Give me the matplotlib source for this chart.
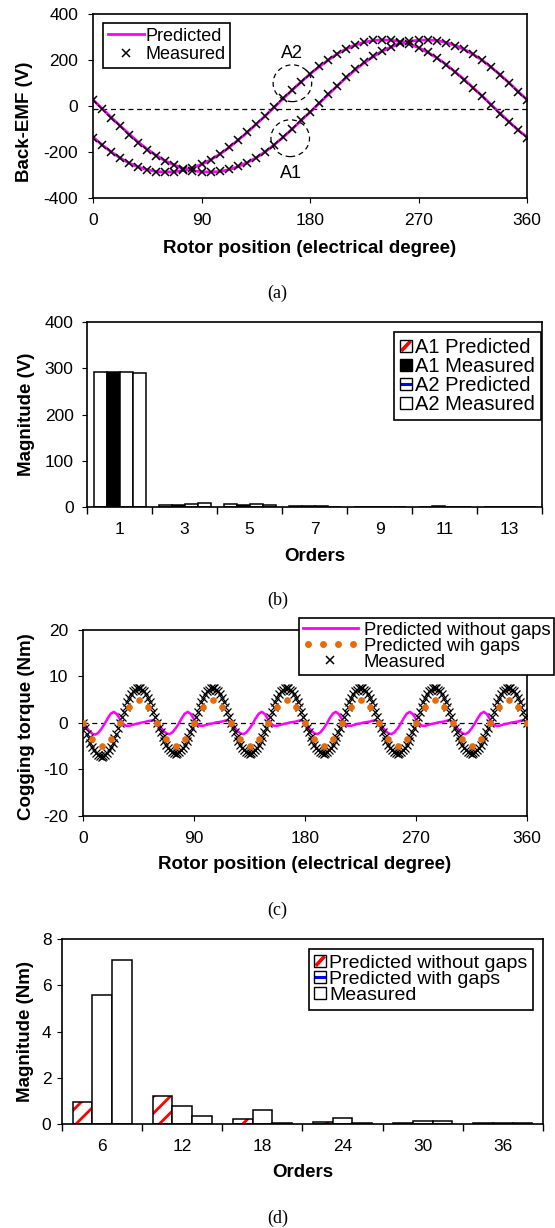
import numpy as np
import matplotlib
matplotlib.use('Agg')
import matplotlib.pyplot as plt
from matplotlib.patches import Patch, Ellipse, Rectangle
from matplotlib.lines import Line2D
from matplotlib.legend_handler import HandlerLine2D, HandlerBase

plt.rcParams['font.family'] = ['Liberation Sans', 'DejaVu Sans']
plt.rcParams['axes.unicode_minus'] = False
plt.rcParams['hatch.linewidth'] = 2.0
plt.rcParams['xtick.major.size'] = 3.6
plt.rcParams['ytick.major.size'] = 3.6
plt.rcParams['xtick.minor.size'] = 3.6
plt.rcParams['xtick.labelsize'] = 12.5
plt.rcParams['ytick.labelsize'] = 12.5

# (a) back-EMF, measured every 7.5 deg
theta_a = np.arange(0, 360.1, 7.5)
a1_meas = [25, -13, -50, -88, -124, -159, -190, -217, -240, -258,
           -273, -282, -286, -287, -284, -276, -263, -246, -225, -199,
           -168, -135, -99, -62, -25, 13, 51, 89, 125, 159,
           190, 217, 240, 258, 273, 282, 286, 287, 284, 276,
           263, 246, 225, 199, 168, 135, 99, 62, 25]
a1_pred = [27, -11, -49, -86, -122, -157, -188, -215, -239, -257,
           -272, -281, -286, -287, -285, -277, -264, -247, -226, -200,
           -170, -137, -101, -64, -27, 11, 49, 87, 123, 157,
           188, 215, 239, 257, 272, 281, 286, 287, 285, 277,
           264, 247, 226, 200, 170, 137, 101, 64, 27]
a2_meas = [-137, -171, -201, -227, -249, -266, -278, -285, -287, -285,
           -279, -268, -253, -233, -208, -180, -148, -115, -79, -43,
           -5, 33, 70, 106, 141, 172, 201, 227, 249, 266,
           278, 285, 287, 285, 279, 268, 253, 233, 208, 180,
           148, 115, 79, 43, 5, -33, -70, -106, -137]
a2_pred = [-135, -169, -199, -226, -248, -265, -277, -285, -287, -286,
           -280, -269, -254, -234, -210, -182, -150, -117, -81, -45,
           -7, 31, 68, 104, 139, 170, 199, 226, 248, 265,
           277, 285, 287, 286, 280, 269, 254, 234, 210, 182,
           150, 117, 81, 45, 7, -31, -68, -104, -135]

# (b) back-EMF harmonics
orders_b = ['1', '3', '5', '7', '9', '11', '13']
b_a1_pred = [291, 5.1, 7.2, 1.4, 0.7, 0.7, 0.7]
b_a1_meas = [291, 4.3, 4.3, 1.4, 0.7, 1.4, 0.7]
b_a2_pred = [292, 6.5, 6.5, 2.9, 0.7, 0.7, 0.7]
b_a2_meas = [290, 9.4, 5.1, 0.7, 0.7, 0.7, 0.7]

# (c) cogging torque
theta_line = np.arange(0, 360.1, 2.5)
tq_no_gaps = [
    0.0, -0.8, -1.7, -2.3, -2.5, -2.1, -1.2, -0.2, 1.0, 2.0, 2.4, 1.9,
    0.8, -0.2, -0.6, -0.6, -0.4, -0.2, -0.1, 0.1, 0.2, 0.4, 0.5, 0.6,
    0.0, -0.8, -1.6, -2.2, -2.4, -2.0, -1.2, -0.2, 1.0, 2.0, 2.4, 1.9,
    0.8, -0.2, -0.6, -0.6, -0.4, -0.2, -0.1, 0.1, 0.2, 0.3, 0.5, 0.6,
    0.0, -0.8, -1.6, -2.2, -2.4, -2.0, -1.2, -0.2, 1.0, 2.0, 2.4, 1.9,
    0.8, -0.2, -0.6, -0.6, -0.4, -0.2, -0.1, 0.1, 0.2, 0.3, 0.5, 0.6,
    0.0, -0.8, -1.6, -2.2, -2.4, -2.0, -1.2, -0.2, 1.0, 2.0, 2.4, 1.9,
    0.8, -0.2, -0.6, -0.6, -0.4, -0.2, -0.1, 0.1, 0.2, 0.3, 0.5, 0.6,
    0.0, -0.8, -1.6, -2.2, -2.4, -2.0, -1.2, -0.2, 1.0, 2.0, 2.4, 1.9,
    0.8, -0.2, -0.6, -0.6, -0.4, -0.2, -0.1, 0.1, 0.2, 0.3, 0.5, 0.6,
    0.0, -0.8, -1.6, -2.2, -2.4, -2.0, -1.2, -0.2, 1.0, 2.0, 2.4, 1.9,
    0.8, -0.2, -0.6, -0.6, -0.4, -0.2, -0.1, 0.1, 0.2, 0.3, 0.5, 0.6,
    0.0]
theta_dots = np.arange(0, 360.1, 7.5)
tq_gaps = [
    0.0, -3.5, -4.9, -3.5, 0.0, 3.5, 5.0, 3.5,
    0.0, -3.5, -4.9, -3.5, 0.0, 3.5, 5.0, 3.5,
    0.0, -3.5, -4.9, -3.5, 0.0, 3.5, 5.0, 3.5,
    0.0, -3.5, -4.9, -3.5, 0.0, 3.5, 5.0, 3.5,
    0.0, -3.5, -4.9, -3.5, 0.0, 3.5, 5.0, 3.5,
    0.0, -3.5, -4.9, -3.5, 0.0, 3.5, 5.0, 3.5,
    0.0]
theta_meas = np.arange(0, 360.1, 1.5)
tq_meas = [
    0.0, -1.1, -2.3, -3.3, -4.3, -5.2, -5.9, -6.5, -6.9, -7.2,
    -7.3, -7.2, -6.9, -6.5, -5.9, -5.2, -4.3, -3.3, -2.3, -1.1,
    0.0, 1.2, 2.4, 3.5, 4.5, 5.4, 6.2, 6.8, 7.2, 7.5,
    7.6, 7.5, 7.2, 6.8, 6.2, 5.4, 4.5, 3.5, 2.4, 1.2,
    0.0, -1.0, -2.0, -3.0, -3.9, -4.7, -5.3, -5.9, -6.3, -6.5,
    -6.6, -6.5, -6.3, -5.9, -5.3, -4.7, -3.9, -3.0, -2.0, -1.0,
    0.0, 1.2, 2.4, 3.5, 4.5, 5.4, 6.2, 6.8, 7.2, 7.5,
    7.6, 7.5, 7.2, 6.8, 6.2, 5.4, 4.5, 3.5, 2.4, 1.2,
    0.0, -1.0, -2.0, -3.0, -3.9, -4.7, -5.3, -5.9, -6.3, -6.5,
    -6.6, -6.5, -6.3, -5.9, -5.3, -4.7, -3.9, -3.0, -2.0, -1.0,
    0.0, 1.2, 2.4, 3.5, 4.5, 5.4, 6.2, 6.8, 7.2, 7.5,
    7.6, 7.5, 7.2, 6.8, 6.2, 5.4, 4.5, 3.5, 2.4, 1.2,
    0.0, -1.0, -2.0, -3.0, -3.9, -4.7, -5.3, -5.9, -6.3, -6.5,
    -6.6, -6.5, -6.3, -5.9, -5.3, -4.7, -3.9, -3.0, -2.0, -1.0,
    0.0, 1.2, 2.4, 3.5, 4.5, 5.4, 6.2, 6.8, 7.2, 7.5,
    7.6, 7.5, 7.2, 6.8, 6.2, 5.4, 4.5, 3.5, 2.4, 1.2,
    0.0, -1.0, -2.0, -3.0, -3.9, -4.7, -5.3, -5.9, -6.3, -6.5,
    -6.6, -6.5, -6.3, -5.9, -5.3, -4.7, -3.9, -3.0, -2.0, -1.0,
    0.0, 1.2, 2.4, 3.5, 4.5, 5.4, 6.2, 6.8, 7.2, 7.5,
    7.6, 7.5, 7.2, 6.8, 6.2, 5.4, 4.5, 3.5, 2.4, 1.2,
    0.0, -1.0, -2.0, -3.0, -3.9, -4.7, -5.3, -5.9, -6.3, -6.5,
    -6.6, -6.5, -6.3, -5.9, -5.3, -4.7, -3.9, -3.0, -2.0, -1.0,
    0.0, 1.2, 2.4, 3.5, 4.5, 5.4, 6.2, 6.8, 7.2, 7.5,
    7.6, 7.5, 7.2, 6.8, 6.2, 5.4, 4.5, 3.5, 2.4, 1.2,
    0.0]

# (d) cogging torque harmonics
orders_d = ['6', '12', '18', '24', '30', '36']
d_no_gaps = [0.95, 1.22, 0.22, 0.10, 0.04, 0.05]
d_with_gaps = [5.57, 0.76, 0.62, 0.28, 0.15, 0.05]
d_measured = [7.08, 0.33, 0.06, 0.06, 0.13, 0.06]

MAGENTA = '#FF00FF'
ORANGE = '#E46C0A'
W, H = 555, 1228
LABEL_FS = 13.5


class Swatch(HandlerBase):
    # small square legend key with a coloured stripe (diagonal or horizontal)
    def __init__(self, face='white', stripe=None, kind=None):
        super().__init__()
        self.face, self.stripe, self.kind = face, stripe, kind

    def create_artists(self, legend, orig_handle, xdescent, ydescent,
                       width, height, fontsize, trans):
        x0, y0 = -xdescent, -ydescent
        arts = [Rectangle((x0, y0), width, height, facecolor=self.face,
                          edgecolor='none', transform=trans)]
        if self.kind == 'diag':
            arts.append(Line2D([x0 + 1, x0 + width - 1], [y0 + 1, y0 + height - 1],
                               color=self.stripe, lw=2.6, solid_capstyle='butt',
                               transform=trans))
        elif self.kind == 'flat':
            arts.append(Line2D([x0, x0 + width], [y0 + height / 2] * 2,
                               color=self.stripe, lw=2.2, solid_capstyle='butt',
                               transform=trans))
        arts.append(Rectangle((x0, y0), width, height, facecolor='none',
                              edgecolor='black', lw=1, transform=trans))
        return arts


def axes_px(fig, x0, x1, y0, y1):
    return fig.add_axes([x0 / W, 1 - y1 / H, (x1 - x0) / W, (y1 - y0) / H])


def frame(ax):
    for s in ax.spines.values():
        s.set_linewidth(1.2)
        s.set_color('black')


def legend_box(leg):
    fr = leg.get_frame()
    fr.set_edgecolor('black')
    fr.set_linewidth(1.2)
    fr.set_boxstyle('square', pad=0)


fig = plt.figure(figsize=(W / 100, H / 100), dpi=100)

# ---------- (a)
ax = axes_px(fig, 93, 527, 14, 198)
frame(ax)
ax.axhline(-15, color='black', lw=0.9, ls=(0, (4, 3)), zorder=1)
ax.plot(theta_a, a1_pred, color=MAGENTA, lw=2, zorder=2)
ax.plot(theta_a, a2_pred, color=MAGENTA, lw=2, zorder=2)
ax.plot(theta_a, a1_meas, ls='none', marker='x', ms=6, mew=1.1, color='black', zorder=3)
ax.plot(theta_a, a2_meas, ls='none', marker='x', ms=6, mew=1.1, color='black', zorder=3)
for cx, cy in [(165.4, 99), (163.6, -140)]:
    ax.add_patch(Ellipse((cx, cy), 32, 160, fill=False, ls=(0, (4, 3)), lw=0.9,
                         edgecolor='black', zorder=4))
ax.text(165, 228, 'A2', fontsize=13, ha='center', va='center')
ax.text(164, -292, 'A1', fontsize=13, ha='center', va='center')
ax.set_xlim(0, 360)
ax.set_ylim(-400, 400)
ax.set_xticks([0, 90, 180, 270, 360])
ax.set_yticks([-400, -200, 0, 200, 400])
ax.tick_params(axis='x', pad=7)
ax.tick_params(axis='y', pad=7)
ax.set_xlabel('Rotor position (electrical degree)', fontsize=LABEL_FS, fontweight='bold', va='center')
ax.xaxis.set_label_coords(0.5, -0.272)
ax.set_ylabel('Back-EMF (V)', fontsize=LABEL_FS, fontweight='bold', va='center')
ax.yaxis.set_label_coords(-0.158, 0.415)
h_a = [Line2D([], [], color=MAGENTA, lw=2),
       Line2D([], [], ls='none', marker='x', ms=6, mew=1.1, color='black')]
leg = ax.legend(h_a, ['Predicted', 'Measured'], loc='upper left',
                bbox_to_anchor=(103 / W, 1 - 23 / H), bbox_transform=fig.transFigure,
                borderaxespad=0, fontsize=13, handlelength=2.0, handletextpad=0.1,
                labelspacing=0.1, borderpad=0.25, fancybox=False, framealpha=1)
legend_box(leg)
fig.text(0.5, 1 - 293 / H, '(a)', family='Liberation Serif', fontsize=13,
         ha='center', va='center')

# ---------- (b)
ax = axes_px(fig, 87, 542, 322, 507)
frame(ax)
xb = np.arange(len(orders_b))
wb = 0.2
for off, vals, fc in [(-1.5, b_a1_pred, 'white'), (-0.5, b_a1_meas, 'black'),
                      (0.5, b_a2_pred, 'white'), (1.5, b_a2_meas, 'white')]:
    ax.bar(xb + off * wb, vals, wb, color=fc, edgecolor='black', linewidth=1.1)
ax.set_xlim(-0.5, len(orders_b) - 0.5)
ax.set_ylim(0, 400)
ax.set_yticks([0, 100, 200, 300, 400])
ax.set_xticks(xb, orders_b)
ax.set_xticks(np.arange(-0.5, len(orders_b)), minor=True)
ax.tick_params(axis='x', which='major', length=0, pad=11)
ax.tick_params(axis='x', which='minor', length=5, width=1)
ax.tick_params(axis='y', pad=6)
ax.set_xlabel('Orders', fontsize=LABEL_FS, fontweight='bold', va='center')
ax.xaxis.set_label_coords(0.5, -0.267)
ax.set_ylabel('Magnitude (V)', fontsize=LABEL_FS, fontweight='bold', va='center')
ax.yaxis.set_label_coords(-0.132, 0.5)
h_b = [Patch(), Patch(), Patch(), Patch()]
hm_b = {h_b[0]: Swatch('white', 'red', 'diag'), h_b[1]: Swatch('black'),
        h_b[2]: Swatch('white', 'blue', 'flat'), h_b[3]: Swatch('white')}
leg = ax.legend(h_b, ['A1 Predicted', 'A1 Measured', 'A2 Predicted', 'A2 Measured'],
                loc='upper right', bbox_to_anchor=(541 / W, 1 - 332 / H),
                bbox_transform=fig.transFigure, borderaxespad=0, fontsize=14.5,
                handlelength=0.6, handleheight=0.6, handletextpad=0.15,
                labelspacing=0.0, borderpad=0.3, fancybox=False, framealpha=1,
                handler_map=hm_b)
legend_box(leg)
fig.text(0.5, 1 - 600 / H, '(b)', family='Liberation Serif', fontsize=13,
         ha='center', va='center')

# ---------- (c)
ax = axes_px(fig, 83, 527, 630, 816)
frame(ax)
ax.axhline(0, color='black', lw=0.9, ls=(0, (4, 3)), zorder=1)
ax.plot(theta_line, tq_no_gaps, color=MAGENTA, lw=1.8, zorder=2)
ax.plot(theta_meas, tq_meas, ls='none', marker='x', ms=5.5, mew=0.9, color='black', zorder=3)
ax.plot(theta_dots, tq_gaps, ls='none', marker='o', ms=4.8, mew=0, color=ORANGE, zorder=4)
ax.set_xlim(0, 360)
ax.set_ylim(-20, 20)
ax.set_xticks([0, 90, 180, 270, 360])
ax.set_yticks([-20, -10, 0, 10, 20])
ax.tick_params(axis='x', pad=7)
ax.tick_params(axis='y', pad=7)
ax.set_xlabel('Rotor position (electrical degree)', fontsize=LABEL_FS, fontweight='bold', va='center')
ax.xaxis.set_label_coords(0.5, -0.263)
ax.set_ylabel('Cogging torque (Nm)', fontsize=LABEL_FS, fontweight='bold', va='center')
ax.yaxis.set_label_coords(-0.128, 0.48)
h_c = [Line2D([], [], color=MAGENTA, lw=2),
       Line2D([], [], ls='none', marker='o', ms=5, mew=0, color=ORANGE),
       Line2D([], [], ls='none', marker='x', ms=6, mew=1.1, color='black')]
leg = ax.legend(h_c, ['Predicted without gaps', 'Predicted wih gaps', 'Measured'],
                loc='upper right', bbox_to_anchor=(554 / W, 1 - 618 / H),
                bbox_transform=fig.transFigure, borderaxespad=0, fontsize=13.3,
                handlelength=3.0, handletextpad=0.3, labelspacing=-0.05, borderpad=0.2,
                fancybox=False, framealpha=1,
                handler_map={h_c[1]: HandlerLine2D(numpoints=4)})
legend_box(leg)
leg.set_zorder(10)
fig.text(0.5, 1 - 910 / H, '(c)', family='Liberation Serif', fontsize=13,
         ha='center', va='center')

# ---------- (d)
ax = axes_px(fig, 62, 543, 939, 1124)
frame(ax)
xd = np.arange(len(orders_d))
wd = 0.245
ax.bar(xd - wd, d_no_gaps, wd, color='white', hatch='//', edgecolor='red', linewidth=0)
ax.bar(xd - wd, d_no_gaps, wd, color='none', edgecolor='black', linewidth=1.1)
ax.bar(xd, d_with_gaps, wd, color='white', edgecolor='black', linewidth=1.1)
ax.bar(xd + wd, d_measured, wd, color='white', edgecolor='black', linewidth=1.1)
ax.set_xlim(-0.5, len(orders_d) - 0.5)
ax.set_ylim(0, 8)
ax.set_yticks([0, 2, 4, 6, 8])
ax.set_xticks(xd, orders_d)
ax.set_xticks(np.arange(-0.5, len(orders_d)), minor=True)
ax.tick_params(axis='x', which='major', length=0, pad=11)
ax.tick_params(axis='x', which='minor', length=5, width=1)
ax.tick_params(axis='y', pad=4)
ax.set_xlabel('Orders', fontsize=LABEL_FS, fontweight='bold', va='center')
ax.xaxis.set_label_coords(0.5, -0.263)
ax.set_ylabel('Magnitude (Nm)', fontsize=LABEL_FS, fontweight='bold', va='center')
ax.yaxis.set_label_coords(-0.076, 0.5)
h_d = [Patch(), Patch(), Patch()]
hm_d = {h_d[0]: Swatch('white', 'red', 'diag'), h_d[1]: Swatch('white', 'blue', 'flat'),
        h_d[2]: Swatch('white')}
leg = ax.legend(h_d, ['Predicted without gaps', 'Predicted with gaps', 'Measured'],
                loc='upper right', bbox_to_anchor=(533 / W, 1 - 949 / H),
                bbox_transform=fig.transFigure, borderaxespad=0, fontsize=14,
                handlelength=0.6, handleheight=0.6, handletextpad=0.15,
                labelspacing=-0.05, borderpad=0.3, fancybox=False, framealpha=1,
                handler_map=hm_d)
legend_box(leg)
fig.text(0.5, 1 - 1218 / H, '(d)', family='Liberation Serif', fontsize=13,
         ha='center', va='center')

fig.savefig('out.png', dpi=100)
